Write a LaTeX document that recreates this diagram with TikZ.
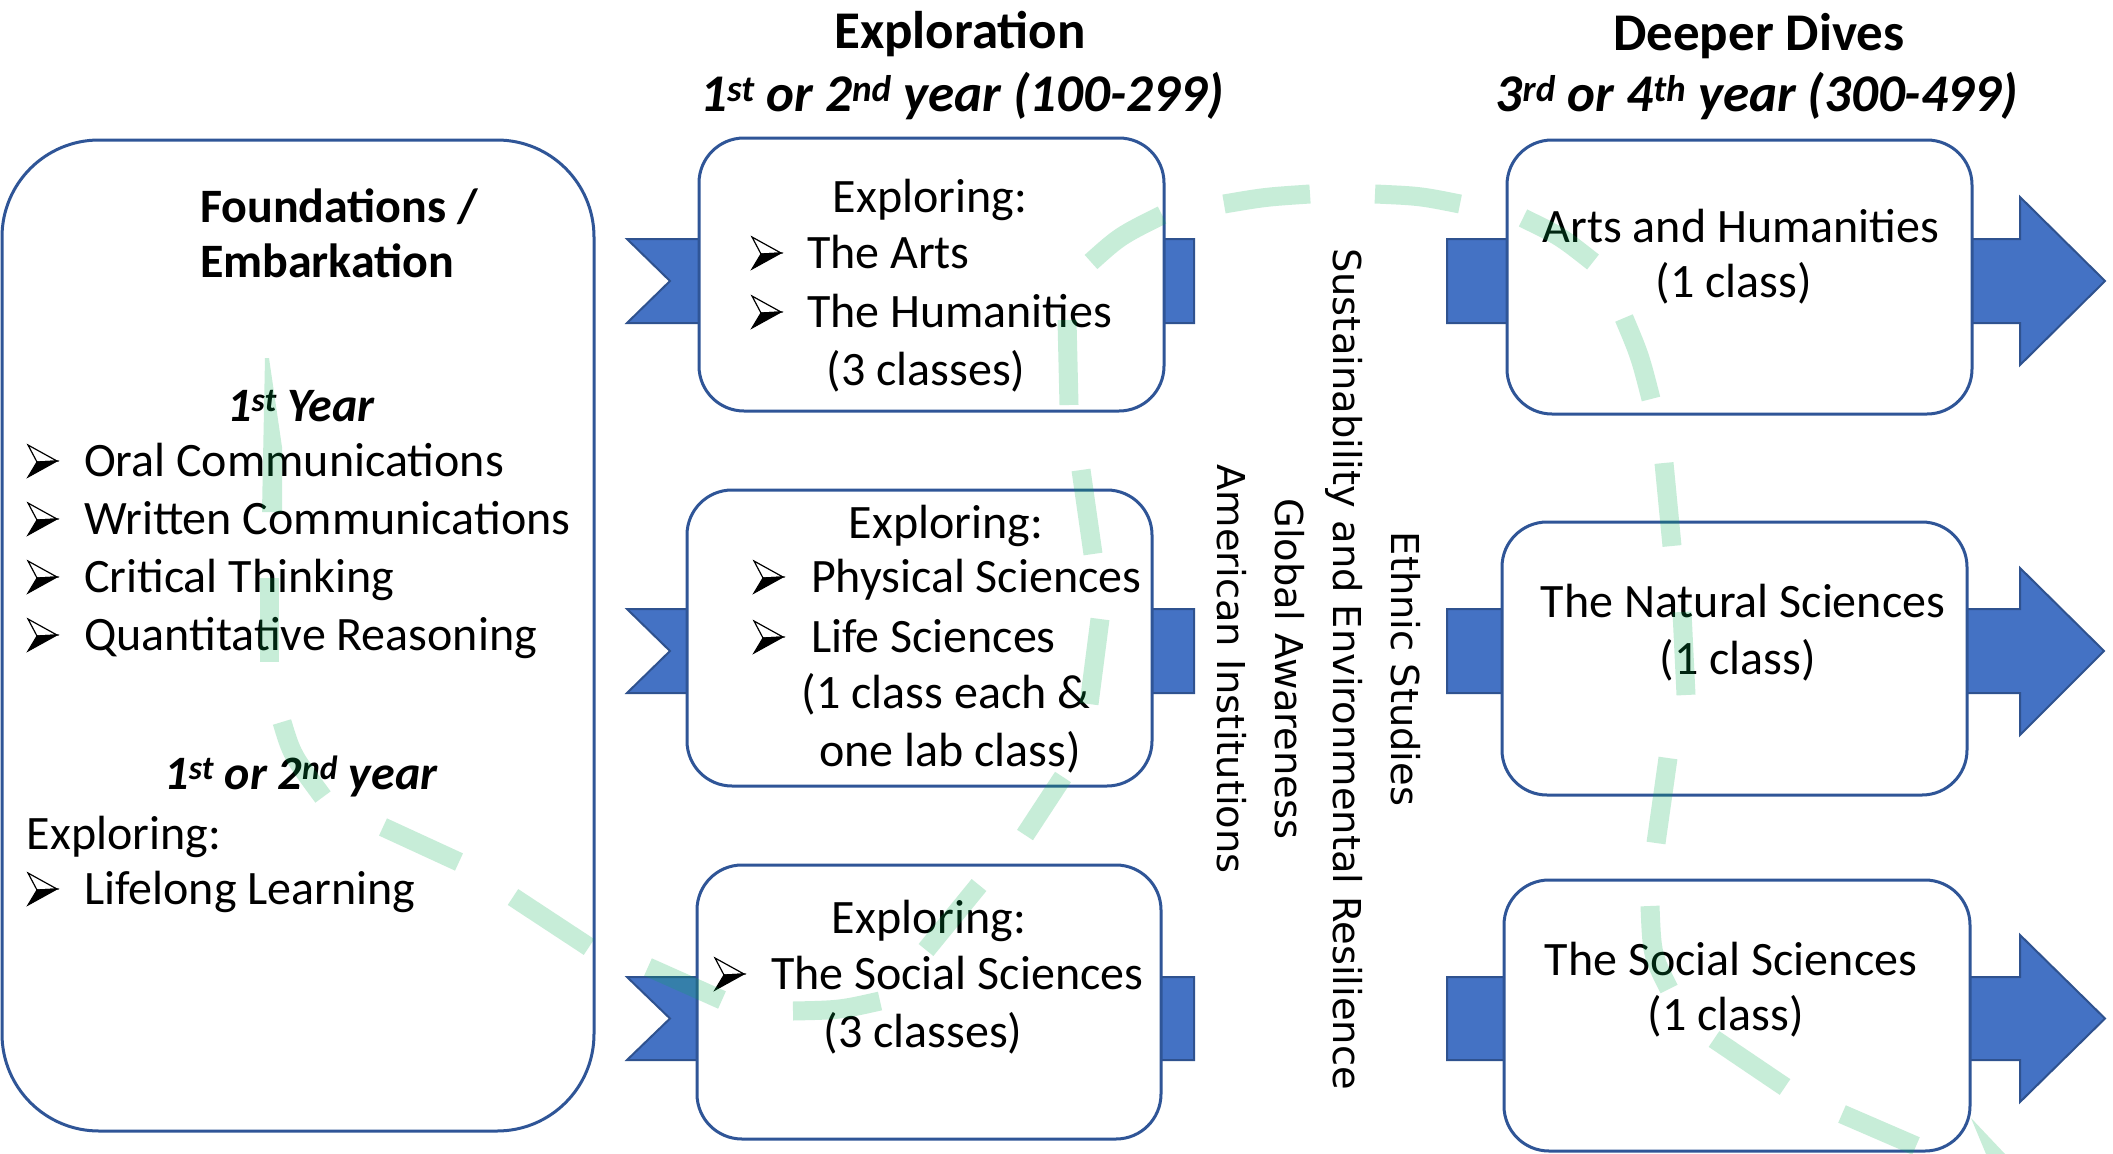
\documentclass[tikz,border=0pt]{standalone}
\usepackage{fontspec}
\setmainfont{Carlito}
\newfontfamily\dejavu{DejaVu Sans}
\definecolor{ablue}{HTML}{4472C4}
\definecolor{aborder}{HTML}{2F528F}
\definecolor{boxline}{HTML}{2F5597}
\definecolor{agreen}{HTML}{00B050}
\newcommand\bodyfs{\fontsize{48}{58}\selectfont}
\newcommand\headfs{\fontsize{53}{64}\selectfont}
\begin{document}
\begin{tikzpicture}[x=1pt,y=-1pt,
  box/.style={draw=boxline,line width=3pt,fill=white,rounded corners=45pt,inner sep=0pt,outer sep=0pt},
  band/.style={fill=ablue,draw=aborder,line width=2pt,line join=miter},
  txt/.style={inner sep=0pt,outer sep=0pt,font=\bodyfs,anchor=base},
  ltxt/.style={txt,anchor=base west},
  head/.style={inner sep=0pt,font=\headfs\bfseries,anchor=base},
  vtxt/.style={inner sep=0pt,anchor=base,rotate=-90,font=\dejavu\fontsize{38.4}{46}\selectfont},
  gdash/.style={draw=agreen,draw opacity=0.22,line width=19pt,line cap=butt},
  gfill/.style={fill=agreen,fill opacity=0.22},
  bulletmark/.pic={
    \filldraw[fill=white,draw=black,line width=1.2pt,line join=miter] (0,0) -- (29,16) -- (9,17) -- cycle;
    \filldraw[fill=black,draw=black,line width=1.2pt,line join=miter] (9,17) -- (29,16) -- (0,32) -- cycle;
  }]
\useasboundingbox (0,0) rectangle (2113,1154);
\fill[white] (0,0) rectangle (2113,1154);

% headers
\node[head] (h1) at (960,48) {Exploration};
\node[head,font=\headfs\bfseries\itshape] (h2) at (962,111) {1\textsuperscript{st} or 2\textsuperscript{nd} year (100-299)};
\node[head] (h3) at (1759,50) {Deeper Dives};
\node[head,font=\headfs\bfseries\itshape] (h4) at (1757,111) {3\textsuperscript{rd} or 4\textsuperscript{th} year (300-499)};

% bands behind the middle boxes
\draw[band] (627,239) -- (1194,239) -- (1194,323) -- (627,323) -- (670,281) -- cycle;
\draw[band] (627,609) -- (1194,609) -- (1194,693) -- (627,693) -- (670,651) -- cycle;
\draw[band] (627,977) -- (1194,977) -- (1194,1060) -- (627,1060) -- (670,1018.5) -- cycle;
% block arrows behind the right boxes
\draw[band] (1447,239) -- (2020,239) -- (2020,197) -- (2105,281) -- (2020,365) -- (2020,323) -- (1447,323) -- cycle;
\draw[band] (1447,609) -- (2020,609) -- (2020,568) -- (2104,651) -- (2020,735) -- (2020,693) -- (1447,693) -- cycle;
\draw[band] (1447,977) -- (2020,977) -- (2020,935) -- (2105,1018.5) -- (2020,1102) -- (2020,1060) -- (1447,1060) -- cycle;

% boxes
\node[box,rounded corners=97pt,minimum width=592pt,minimum height=991pt] (L) at (298,635.5) {};
\node[box,minimum width=465pt,minimum height=273pt] (B1) at (931.5,274.5) {};
\node[box,minimum width=465pt,minimum height=296pt] (B2) at (919.5,638) {};
\node[box,minimum width=464pt,minimum height=274pt] (B3) at (929,1002) {};
\node[box,minimum width=465pt,minimum height=274pt] (R1) at (1739.5,277) {};
\node[box,minimum width=465pt,minimum height=273pt] (R2) at (1734.5,658.5) {};
\node[box,minimum width=466pt,minimum height=271pt] (R3) at (1737,1015.5) {};

% left box text
\node[ltxt,font=\bodyfs\bfseries] (f1) at (200,222) {Foundations /};
\node[ltxt,font=\bodyfs\bfseries] (f2) at (200,277) {Embarkation};
\node[txt,font=\bodyfs\bfseries\itshape] (y1) at (301,421) {1\textsuperscript{st} Year};
\pic at (28,445) {bulletmark};
\node[ltxt] (l1) at (84,476) {Oral Communications};
\pic at (28,503) {bulletmark};
\node[ltxt] (l2) at (84,534) {Written Communications};
\pic at (28,561) {bulletmark};
\node[ltxt] (l3) at (84,592) {Critical Thinking};
\pic at (28,619) {bulletmark};
\node[ltxt] (l4) at (84,650) {Quantitative Reasoning};
\node[txt,font=\bodyfs\bfseries\itshape] (y2) at (301,789) {1\textsuperscript{st} or 2\textsuperscript{nd} year};
\node[ltxt] (l5) at (27,849) {Exploring:};
\pic at (28,873) {bulletmark};
\node[ltxt] (l6) at (84,904) {Lifelong Learning};

% middle box texts
\node[txt] (m1a) at (930,212) {Exploring:};
\pic at (752,237) {bulletmark};
\node[ltxt] (m1b) at (807,268) {The Arts};
\pic at (752,296) {bulletmark};
\node[ltxt] (m1c) at (807,327) {The Humanities};
\node[txt] (m1d) at (926,385) {(3 classes)};

\node[txt] (m2a) at (946,538) {Exploring:};
\pic at (754,561) {bulletmark};
\node[ltxt] (m2b) at (811,592) {Physical Sciences};
\pic at (754,621) {bulletmark};
\node[ltxt] (m2c) at (811,652) {Life Sciences};
\node[txt] (m2d) at (946,708) {(1 class each \&};
\node[txt] (m2e) at (950,766) {one lab class)};

\node[txt] (m3a) at (929,933) {Exploring:};
\pic at (715,958) {bulletmark};
\node[ltxt] (m3b) at (771,989) {The Social Sciences};
\node[txt] (m3c) at (923,1047) {(3 classes)};

% right box texts
\node[txt] (r1a) at (1741,242) {Arts and Humanities};
\node[txt] (r1b) at (1734,297) {(1 class)};
\node[txt] (r2a) at (1743,617) {The Natural Sciences};
\node[txt] (r2b) at (1738,674) {(1 class)};
\node[txt] (r3a) at (1731,975) {The Social Sciences};
\node[txt] (r3b) at (1726,1030) {(1 class)};

% vertical texts
\node[vtxt] (v1) at (1391,669) {Ethnic Studies};
\node[vtxt] (v2) at (1333,669) {Sustainability and Environmental Resilience};
\node[vtxt] (v3) at (1275,669) {Global Awareness};
\node[vtxt] (v4) at (1217,669) {American Institutions};

% green dashed journey line
\fill[gfill] (265,358) -- (269,358) -- (282,447) -- (282,512) -- (262,512) -- cycle;
\draw[gdash] (269,578) -- (269,662);
\draw[gdash] (282,722) .. controls (292,755) .. (323,797);
\draw[gdash] (383,827) -- (459,862);
\draw[gdash] (513,897) -- (589,947);
\draw[gdash] (648,967) -- (722,1000);
\draw[gdash] (793,1011) .. controls (840,1010) .. (880,1001);
\draw[gdash] (926,950) -- (979,885);
\draw[gdash] (1025,835) -- (1063,777);
\draw[gdash] (1089,704) -- (1100,619);
\draw[gdash] (1093,554) -- (1081,470);
\draw[gdash] (1069,405) -- (1067,320);
\draw[gdash] (1091,262) .. controls (1120,236) .. (1162,215);
\draw[gdash] (1224,204) .. controls (1265,197) .. (1310,194);
\draw[gdash] (1375,194) .. controls (1420,196) .. (1460,204);
\draw[gdash] (1523,218) .. controls (1560,236) .. (1593,262);
\draw[gdash] (1624,318) .. controls (1640,356) .. (1651,399);
\draw[gdash] (1664,463) -- (1672,546);
\draw[gdash] (1682,612) -- (1686,695);
\draw[gdash] (1668,758) -- (1656,843);
\draw[gdash] (1650,906) .. controls (1652,955) .. (1669,989);
\draw[gdash] (1714,1039) -- (1785,1087);
\draw[gdash] (1842,1114) -- (1916,1146);
\fill[gfill] (1971,1118) -- (2005,1154) -- (1986,1154) -- cycle;
\end{tikzpicture}
\end{document}
